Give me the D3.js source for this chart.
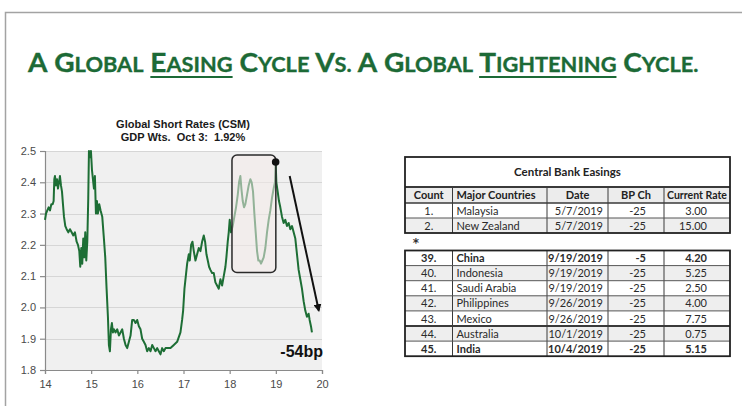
<!DOCTYPE html>
<html>
<head>
<meta charset="utf-8">
<script src="https://cdn.jsdelivr.net/npm/d3@7"></script>
<style>
  html, body { margin: 0; padding: 0; background: #fff; }
  svg { display: block; }
</style>
</head>
<body>
<svg id="page" width="742" height="406"></svg>
<script>
// ---- Global short rates (CSM), GDP weighted, % ----
const years = [
  14.000,14.022,14.050,14.079,14.108,14.137,14.166,14.187,14.202,14.216,14.238,14.260,14.281,14.303,14.324,14.346,
  14.368,14.389,14.411,14.440,14.469,14.505,14.541,14.577,14.613,14.649,14.685,14.714,14.743,14.764,14.786,14.807,
  14.829,14.851,14.872,14.894,14.916,14.937,14.952,14.973,14.995,15.017,15.038,15.060,15.081,15.103,15.125,15.146,
  15.175,15.204,15.240,15.276,15.305,15.334,15.363,15.384,15.406,15.428,15.449,15.471,15.492,15.528,15.565,15.601,
  15.637,15.673,15.709,15.745,15.781,15.817,15.853,15.889,15.925,15.961,15.997,16.033,16.069,16.105,16.141,16.177,
  16.213,16.249,16.286,16.322,16.358,16.394,16.430,16.466,16.502,16.538,16.574,16.610,16.646,16.718,16.790,16.862,
  16.934,16.970,16.992,17.021,17.050,17.079,17.115,17.136,17.165,17.194,17.223,17.259,17.295,17.331,17.367,17.403,
  17.439,17.468,17.497,17.526,17.554,17.583,17.619,17.655,17.691,17.727,17.764,17.800,17.836,17.872,17.908,17.929,
  17.958,17.980,18.001,18.030,18.066,18.102,18.138,18.175,18.203,18.232,18.254,18.283,18.311,18.340,18.376,18.412,
  18.448,18.477,18.506,18.535,18.564,18.593,18.621,18.650,18.679,18.708,18.737,18.773,18.809,18.845,18.881,18.917,
  18.953,18.982,18.996,19.011,19.040,19.068,19.097,19.133,19.169,19.205,19.241,19.278,19.314,19.350,19.386,19.422,
  19.458,19.494,19.530,19.566,19.602,19.638,19.674,19.710,19.732,19.761,19.782
];
const rates = [
  2.28,2.30,2.31,2.32,2.31,2.33,2.33,2.34,2.41,2.42,2.39,2.41,2.38,2.40,2.42,2.39,
  2.37,2.33,2.29,2.26,2.25,2.24,2.25,2.24,2.23,2.24,2.21,2.20,2.18,2.13,2.19,2.14,
  2.22,2.16,2.24,2.15,2.21,2.35,2.50,2.48,2.50,2.44,2.41,2.38,2.42,2.30,2.34,2.30,
  2.33,2.31,2.29,2.22,2.16,2.06,1.97,1.88,1.86,1.93,1.95,1.92,1.93,1.92,1.93,1.91,
  1.92,1.93,1.90,1.88,1.87,1.89,1.91,1.96,1.96,1.95,1.96,1.94,1.93,1.90,1.89,1.88,
  1.86,1.87,1.86,1.88,1.87,1.86,1.87,1.86,1.85,1.87,1.86,1.87,1.87,1.87,1.88,1.89,
  1.92,1.96,1.99,2.06,2.10,2.14,2.17,2.15,2.20,2.21,2.18,2.15,2.17,2.19,2.18,2.21,
  2.23,2.21,2.17,2.15,2.13,2.12,2.11,2.11,2.08,2.07,2.06,2.09,2.07,2.10,2.13,2.16,
  2.21,2.24,2.28,2.24,2.26,2.29,2.32,2.36,2.40,2.42,2.38,2.34,2.32,2.33,2.36,2.39,
  2.41,2.40,2.37,2.30,2.24,2.18,2.15,2.15,2.14,2.15,2.16,2.19,2.24,2.28,2.31,2.35,
  2.38,2.40,2.465,2.40,2.37,2.34,2.32,2.29,2.27,2.28,2.26,2.27,2.25,2.26,2.24,2.22,
  2.17,2.12,2.09,2.06,2.02,1.99,1.97,1.98,1.96,1.94,1.92
];
const yTicks = [1.8, 1.9, 2.0, 2.1, 2.2, 2.3, 2.4, 2.5];
const xTicks = [14, 15, 16, 17, 18, 19, 20];
const chartTitle = ["Global Short Rates (CSM)", "GDP Wts.  Oct 3:  1.92%"];
const moveLabel = "-54bp";

// Annotations, in data units
const highlightBox = { x0: 18.05, x1: 19.0, y0: 2.112, y1: 2.487 };
const trendArrow = { from: [19.30, 2.42], to: [19.93, 1.99] };

// ---- Central bank easings table ----
const tableTitle = "Central Bank Easings";
const columns = ["Count", "Major Countries", "Date", "BP Ch", "Current Rate"];
const counts = ["1.", "2.", "39.", "40.", "41.", "42.", "43.", "44.", "45."];
const countries = ["Malaysia", "New Zealand", "China", "Indonesia", "Saudi Arabia", "Philippines", "Mexico", "Australia", "India"];
const dates = ["5/7/2019", "5/7/2019", "9/19/2019", "9/19/2019", "9/19/2019", "9/26/2019", "9/26/2019", "10/1/2019", "10/4/2019"];
const bpChanges = [-25, -25, -5, -25, -25, -25, -25, -25, -25];
const currentRates = ["3.00", "15.00", "4.20", "5.25", "2.50", "4.00", "7.75", "0.75", "5.15"];
const boldCountries = ["China", "India"];
const firstBlockSize = 2;

// ---- Page title ----
const titleWords = ["A", "Global", "Easing", "Cycle", "Vs.", "A", "Global", "Tightening", "Cycle."];
const underlinedWords = [2, 7];

const svg = d3.select("#page");
const GREEN = "#1c6a36";

// frame around the slide
svg.append("path")
  .attr("d", "M5.5,406 V12.5 H742")
  .attr("fill", "none").attr("stroke", "#a3a3a3").attr("stroke-width", 1.5);

// Title in small caps: first letter big, the rest upper-case at a smaller size
const titleG = svg.append("g");
const titleText = titleG.append("text")
  .attr("x", 0).attr("y", 72)
  .attr("fill", GREEN)
  .attr("stroke", GREEN).attr("stroke-width", 0.35)
  .style("font-family", "Lato, 'Open Sans', sans-serif")
  .style("font-weight", 700)
  .style("white-space", "pre");
let idx = 0;
const wordStarts = [];
titleWords.forEach((w, i) => {
  const lead = (i > 0 ? " " : "") + w[0];
  wordStarts.push(idx + (i > 0 ? 1 : 0));
  titleText.append("tspan").style("font-size", "27px").text(lead);
  idx += lead.length;
  const rest = w.slice(1).toUpperCase();
  if (rest.length) {
    titleText.append("tspan").style("font-size", "21px").text(rest);
    idx += rest.length;
  }
});
const naturalW = titleText.node().getComputedTextLength();
const targetW = 669;
titleG.attr("transform", `translate(28,0) scale(${targetW / naturalW},1)`);
underlinedWords.forEach(i => {
  const start = wordStarts[i];
  const n = titleWords[i].length;
  const sx = titleText.node().getStartPositionOfChar(start).x;
  const wlen = titleText.node().getSubStringLength(start, n);
  titleG.append("rect")
    .attr("x", sx).attr("y", 76)
    .attr("width", wlen).attr("height", 2)
    .attr("fill", GREEN);
});

// ---- Line chart ----
const plot = { left: 45, right: 322, top: 151, bottom: 370 };
const x = d3.scaleLinear().domain([14, 20]).range([plot.left, plot.right]);
const y = d3.scaleLinear().domain([1.8, 2.5]).range([plot.bottom, plot.top]);
const chart = svg.append("g");

chart.append("rect")
  .attr("x", plot.left).attr("y", plot.top)
  .attr("width", plot.right - plot.left).attr("height", plot.bottom - plot.top)
  .attr("fill", "#f0f0f0");

chart.append("g").selectAll("line")
  .data(yTicks.filter(d => d > 1.8))
  .join("line")
  .attr("x1", plot.left).attr("x2", plot.right)
  .attr("y1", d => Math.round(y(d)) + 0.5).attr("y2", d => Math.round(y(d)) + 0.5)
  .attr("stroke", "#d6d6d6").attr("stroke-width", 1);

const axisFont = "'Liberation Sans', Arial, sans-serif";
const yAxis = chart.append("g")
  .attr("transform", `translate(${plot.left},0)`)
  .call(d3.axisLeft(y).tickValues(yTicks).tickFormat(d3.format(".1f")).tickSize(5).tickPadding(4));
const xAxis = chart.append("g")
  .attr("transform", `translate(0,${plot.bottom})`)
  .call(d3.axisBottom(x).tickValues(xTicks).tickFormat(d3.format("d")).tickSize(4).tickPadding(6));
[yAxis, xAxis].forEach(a => {
  a.select(".domain").attr("stroke", "#8a8a8a").attr("stroke-width", 1.2);
  a.selectAll(".tick line").attr("stroke", "#8a8a8a").attr("stroke-width", 1.2);
  a.selectAll(".tick text")
    .attr("fill", "#4a4a4a")
    .style("font-family", axisFont).style("font-size", "11px");
});

const series = years.map((t, i) => [t, rates[i]]);
chart.append("path")
  .datum(series)
  .attr("fill", "none")
  .attr("stroke", "#1d6e35")
  .attr("stroke-width", 2)
  .attr("stroke-linejoin", "round")
  .attr("d", d3.line().x(d => x(d[0])).y(d => y(d[1])));

// shaded window over the 2018 double top
chart.append("rect")
  .attr("x", x(highlightBox.x0)).attr("y", y(highlightBox.y1))
  .attr("width", x(highlightBox.x1) - x(highlightBox.x0))
  .attr("height", y(highlightBox.y0) - y(highlightBox.y1))
  .attr("rx", 5).attr("ry", 5)
  .attr("fill", "#f4ebe9").attr("fill-opacity", 0.55)
  .attr("stroke", "#2a2a2a").attr("stroke-width", 1.5);

// peak marker
const peakIdx = d3.maxIndex(rates.map((r, i) => years[i] > 18.5 ? r : -Infinity));
chart.append("circle")
  .attr("cx", x(years[peakIdx])).attr("cy", y(rates[peakIdx]))
  .attr("r", 3.8).attr("fill", "#111");

// downward arrow
svg.append("defs").append("marker")
  .attr("id", "head").attr("viewBox", "0 0 10 10")
  .attr("refX", 8).attr("refY", 5)
  .attr("markerWidth", 4).attr("markerHeight", 4)
  .attr("orient", "auto")
  .append("path").attr("d", "M0,0 L10,5 L0,10 z").attr("fill", "#111");
chart.append("line")
  .attr("x1", x(trendArrow.from[0])).attr("y1", y(trendArrow.from[1]))
  .attr("x2", x(trendArrow.to[0])).attr("y2", y(trendArrow.to[1]))
  .attr("stroke", "#111").attr("stroke-width", 2)
  .attr("marker-end", "url(#head)");

chart.append("text")
  .attr("x", plot.right + 1).attr("y", 357)
  .attr("text-anchor", "end")
  .attr("fill", "#111")
  .style("font-family", axisFont).style("font-weight", 700).style("font-size", "16px")
  .text(moveLabel);

chart.append("g").selectAll("text")
  .data(chartTitle)
  .join("text")
  .attr("x", 183).attr("y", (d, i) => 128 + i * 13)
  .attr("text-anchor", "middle")
  .attr("fill", "#1a1a1a")
  .style("font-family", axisFont).style("font-weight", 700).style("font-size", "11px")
  .style("white-space", "pre")
  .text(d => d);

// ---- Table ----
const colX = [405, 452.5, 547, 608, 664, 730];
const tbl = svg.append("g")
  .style("font-family", "Lato, 'Open Sans', sans-serif")
  .style("font-size", "11px");
const rowH = 15.1;
const titleTop = 157, headTop = 187, headBottom = 203;
const block2Top = 250.5;
const rowTops = counts.map((c, i) => i < firstBlockSize ? headBottom + i * 15 : block2Top + (i - firstBlockSize) * rowH);
const rowHeights = counts.map((c, i) => i < firstBlockSize ? 15 : rowH);
const block1Bottom = headBottom + firstBlockSize * 15;
const block2Bottom = block2Top + (counts.length - firstBlockSize) * rowH;

// row fills
tbl.append("rect").attr("x", colX[0]).attr("y", headTop).attr("width", colX[5] - colX[0]).attr("height", headBottom - headTop).attr("fill", "#ececec");
tbl.append("g").selectAll("rect")
  .data(counts)
  .join("rect")
  .attr("x", colX[0]).attr("y", (d, i) => rowTops[i])
  .attr("width", colX[5] - colX[0]).attr("height", (d, i) => rowHeights[i])
  .attr("fill", (d, i) => {
    const k = i < firstBlockSize ? i : i - firstBlockSize;
    return k % 2 === 1 ? "#eeeeee" : "#ffffff";
  });

// grid lines
const hLine = (yy, w, c) => tbl.append("line")
  .attr("x1", colX[0]).attr("x2", colX[5]).attr("y1", yy).attr("y2", yy)
  .attr("stroke", c || "#3a3a3a").attr("stroke-width", w);
const vLine = (xx, y0, y1) => tbl.append("line")
  .attr("x1", xx).attr("x2", xx).attr("y1", y0).attr("y2", y1)
  .attr("stroke", "#3a3a3a").attr("stroke-width", 1);

colX.slice(1, 5).forEach(cx => { vLine(cx, headTop, block1Bottom); vLine(cx, block2Top, block2Bottom); });
rowTops.forEach((t, i) => { if (i !== 0 && i !== firstBlockSize) hLine(t, 1, "#555"); });
hLine(headBottom, 1.4);
hLine(rowTops[firstBlockSize + 5], 2);
hLine(headTop, 2);

[[titleTop, block1Bottom], [block2Top, block2Bottom]].forEach(([t, b]) => {
  tbl.append("rect")
    .attr("x", colX[0]).attr("y", t)
    .attr("width", colX[5] - colX[0]).attr("height", b - t)
    .attr("fill", "none").attr("stroke", "#222").attr("stroke-width", 1.8);
});

// text
tbl.append("text")
  .attr("x", (colX[0] + colX[5]) / 2).attr("y", 176)
  .attr("text-anchor", "middle").attr("fill", "#222")
  .style("font-weight", 700).style("font-size", "11.5px")
  .text(tableTitle);

const colAnchor = ["middle", "start", "middle", "middle", "middle"];
const colPos = i => colAnchor[i] === "start" ? colX[i] + 4 : (colX[i] + colX[i + 1]) / 2;
tbl.append("g").selectAll("text")
  .data(columns)
  .join("text")
  .attr("x", (d, i) => colPos(i)).attr("y", headBottom - 4)
  .attr("text-anchor", (d, i) => colAnchor[i])
  .attr("fill", "#222").style("font-weight", 700)
  .text(d => d)
  .each(function (d, i) {
    // keep header labels inside their column
    const room = colX[i + 1] - colX[i] - 6;
    if (this.getComputedTextLength() > room) {
      d3.select(this).attr("textLength", room).attr("lengthAdjust", "spacingAndGlyphs");
    }
  });

const cellAnchor = ["middle", "start", "end", "end", "end"];
const cellX = [(colX[0] + colX[1]) / 2, colX[1] + 4, colX[3] - 5, colX[4] - 18, colX[5] - 23];
const rows = counts.map((c, i) => [c, countries[i], dates[i], String(bpChanges[i]), currentRates[i]]);
const rowG = tbl.append("g").selectAll("g")
  .data(rows)
  .join("g")
  .attr("transform", (d, i) => `translate(0,${rowTops[i] + rowHeights[i] - 3.5})`)
  .style("font-weight", d => boldCountries.includes(d[1]) ? 700 : 400);
rowG.selectAll("text")
  .data(d => d)
  .join("text")
  .attr("x", (d, j) => cellX[j])
  .attr("text-anchor", (d, j) => cellAnchor[j])
  .attr("fill", "#2a2a2a")
  .text(d => d);

// ellipsis marker between the two blocks of rows
tbl.append("text")
  .attr("x", 416).attr("y", 247)
  .attr("text-anchor", "middle").attr("fill", "#333")
  .style("font-family", "'DejaVu Sans', sans-serif")
  .style("font-size", "12px").style("font-weight", 700)
  .text("*");
</script>
</body>
</html>
